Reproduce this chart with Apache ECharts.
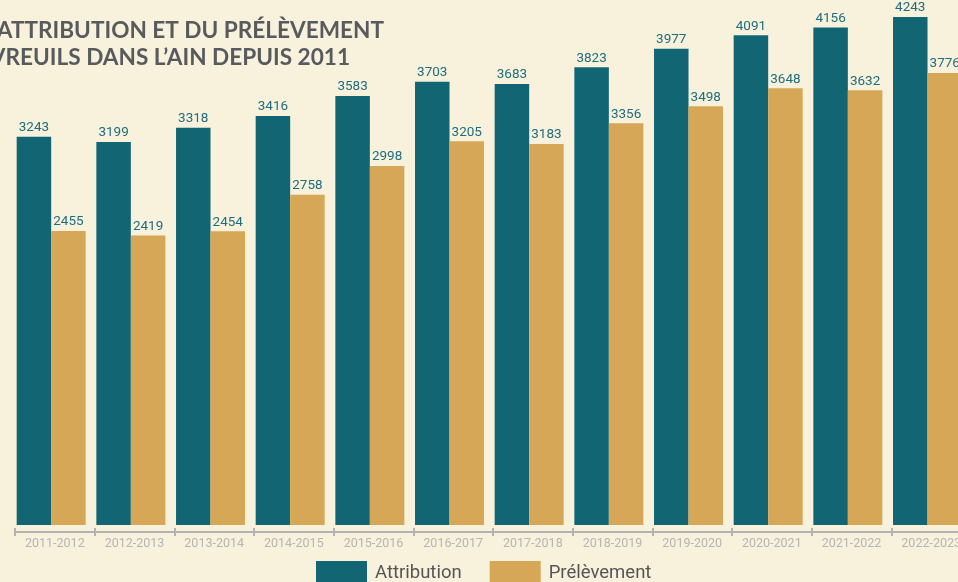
<!DOCTYPE html>
<html>
<head>
<meta charset="utf-8">
<script src="https://cdn.jsdelivr.net/npm/echarts@6/dist/echarts.min.js"></script>
<style>
  html, body { margin: 0; padding: 0; background: #f8f1dc; }
  #chart { width: 958px; height: 582px; }
</style>
</head>
<body>
<div id="chart"></div>
<script>
// saisons de chasse
const seasons = ['2011-2012', '2012-2013', '2013-2014', '2014-2015', '2015-2016', '2016-2017',
  '2017-2018', '2018-2019', '2019-2020', '2020-2021', '2021-2022', '2022-2023'];
const attribution = [3243, 3199, 3318, 3416, 3583, 3703, 3683, 3823, 3977, 4091, 4156, 4243];
const prelevement = [2455, 2419, 2454, 2758, 2998, 3205, 3183, 3356, 3498, 3648, 3632, 3776];

const teal = '#126674';
const gold = '#d5a756';

const mychart = echarts.init(document.getElementById('chart'));

const option = {
  backgroundColor: '#f8f1dc',
  animation: false,
  title: [
    {
      text: 'ÉVOLUTION DE L’ATTRIBUTION ET DU PRÉLÈVEMENT',
      right: 574, top: 18, padding: 0,
      textStyle: { fontFamily: 'Lato', fontWeight: 'bold', fontSize: 22.6, lineHeight: 26, color: '#575b5e' }
    },
    {
      text: 'DES CHEVREUILS DANS L’AIN DEPUIS 2011',
      right: 608, top: 45, padding: 0,
      textStyle: { fontFamily: 'Lato', fontWeight: 'bold', fontSize: 22.6, lineHeight: 26, color: '#575b5e' }
    }
  ],
  legend: {
    left: 316, top: 561, padding: 0,
    itemWidth: 51, itemHeight: 24, itemGap: 28,
    icon: 'rect',
    textStyle: { fontFamily: 'Roboto', fontSize: 18.5, color: '#555555', padding: [0, 0, 0, 3] },
    data: ['Attribution', 'Prélèvement']
  },
  grid: [
    // bars (slightly shifted left inside each category, like the original)
    { left: 11.35, width: 956, top: 0, bottom: 57, outerBoundsMode: 'none' },
    // axis line + labels, the last season runs past the right edge
    { left: 15, width: 956, top: 0, bottom: 50, outerBoundsMode: 'none' }
  ],
  xAxis: [
    { type: 'category', gridIndex: 0, data: seasons, show: false },
    {
      type: 'category', gridIndex: 1, data: seasons, position: 'bottom',
      axisLine: { lineStyle: { color: '#b3b3b3', width: 2 } },
      axisTick: { show: true, length: 4, lineStyle: { color: '#b3b3b3', width: 2 } },
      axisLabel: { color: '#b5b5b5', fontFamily: 'Roboto', fontSize: 12.5, margin: 5 }
    },
    {
      type: 'category', gridIndex: 1, data: seasons, position: 'bottom',
      axisLine: { show: false },
      axisTick: { show: true, inside: true, length: 4, lineStyle: { color: '#b3b3b3', width: 2 } },
      axisLabel: { show: false }
    }
  ],
  yAxis: [
    { type: 'value', gridIndex: 0, min: 0, max: 4385, show: false },
    { type: 'value', gridIndex: 1, show: false }
  ],
  series: [
    {
      name: 'Attribution',
      type: 'bar',
      xAxisIndex: 0, yAxisIndex: 0,
      barWidth: 34.5, barGap: '0%',
      itemStyle: { color: teal },
      label: { show: true, position: 'top', distance: 2, color: '#1f6d7d', fontFamily: 'Roboto', fontSize: 13.5 },
      data: attribution
    },
    {
      name: 'Prélèvement',
      type: 'bar',
      xAxisIndex: 0, yAxisIndex: 0,
      barWidth: 34.5, barGap: '0%',
      itemStyle: { color: gold },
      label: { show: true, position: 'top', distance: 2, color: '#1f6d7d', fontFamily: 'Roboto', fontSize: 13.5 },
      data: prelevement
    }
  ]
};

mychart.setOption(option);
</script>
</body>
</html>
